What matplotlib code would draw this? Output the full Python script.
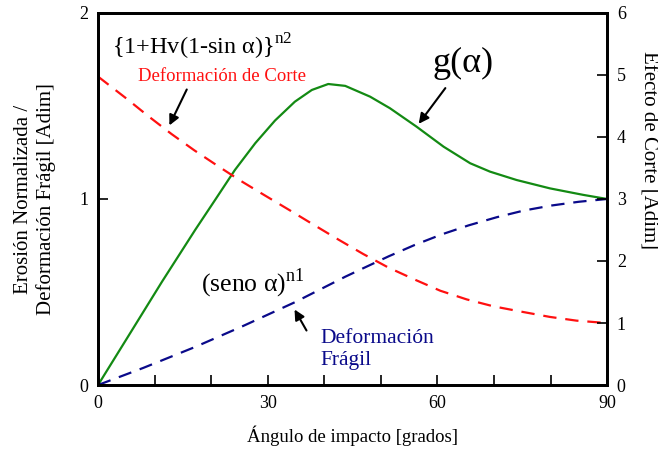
import matplotlib
matplotlib.use('Agg')
from matplotlib import pyplot as plt

plt.rcParams['font.family'] = ['Liberation Serif', 'DejaVu Serif']
plt.rcParams['mathtext.fontset'] = 'custom'
plt.rcParams['mathtext.rm'] = 'Liberation Serif'

# valores (eje izquierdo, 0-2)
ang_g = [0, 5.4, 11.3, 17.2, 20.7, 24.2, 27.8, 31.3, 34.8, 37.8, 40.7, 43.7, 48.1, 51.6,
         56.3, 61.1, 65.8, 69.3, 74.0, 79.9, 85.8, 90]
g_alfa = [0, 0.265, 0.555, 0.835, 0.995, 1.156, 1.30, 1.422, 1.523, 1.586, 1.618, 1.608, 1.55, 1.488,
          1.389, 1.281, 1.192, 1.147, 1.102, 1.057, 1.022, 1.0]

ang_corte = [0, 5.1, 8.9, 13.0, 17.0, 21.1, 25.2, 29.5, 33.8, 38.2, 42.6, 46.9, 51.3, 55.9,
             60.5, 65.2, 69.9, 74.9, 79.9, 84.6, 90]
corte = [1.658, 1.538, 1.445, 1.349, 1.262, 1.179, 1.098, 1.019, 0.941, 0.86, 0.78, 0.704, 0.632, 0.568,
         0.507, 0.46, 0.423, 0.394, 0.366, 0.346, 0.333]

ang_fragil = [0, 8.0, 17.2, 25.7, 34.8, 43.7, 46.9, 51.4, 56.0, 60.8, 65.5, 70.5, 75.3, 80.2, 85.0, 90]
fragil = [0, 0.092, 0.205, 0.318, 0.445, 0.582, 0.628, 0.692, 0.753, 0.81, 0.858, 0.902, 0.938, 0.965,
          0.985, 1.0]

x_ticks = [0, 30, 60, 90]
x_minor = [10, 20, 40, 50, 70, 80]
left_ticks = [0, 1, 2]
right_ticks = [0, 1, 2, 3, 4, 5, 6]

verde = '#138a13'
rojo = '#ff1010'
azul = '#0a0a8a'

fig = plt.figure(figsize=(6.58, 4.51), dpi=100)
ax = fig.add_axes([0.149, 0.1463, 0.7736, 0.825])
ax2 = ax.twinx()

ax.plot(ang_g, g_alfa, color=verde, lw=1.6)
ax.plot(ang_corte, corte, color=rojo, lw=1.6, dashes=[6, 4])
ax.plot(ang_fragil, fragil, color=azul, lw=1.6, dashes=[6, 4])

ax.set_xlim(0, 90)
ax.set_ylim(0, 2)
ax2.set_ylim(0, 6)
ax.set_xticks(x_ticks)
ax.set_xticks(x_minor, minor=True)
ax.set_yticks(left_ticks)
ax2.set_yticks(right_ticks)

for a in (ax, ax2):
    for s in a.spines.values():
        s.set_linewidth(2)
ax.tick_params(axis='x', which='both', direction='in', length=7, width=1.2, labelsize=13, pad=7)
ax.tick_params(axis='y', direction='in', length=7, width=1.2, labelsize=13, pad=7)
ax2.tick_params(axis='y', direction='in', length=7, width=1.2, labelsize=13, pad=7)

ax.set_xlabel('Ángulo de impacto [grados]', fontsize=13.5, labelpad=10)
fig.text(35 / 658, 1 - 199 / 451, 'Erosión Normalizada /\nDeformación Frágil [Adim]',
         rotation=90, ha='center', va='center', fontsize=15, linespacing=1.25)
fig.text(648 / 658, 1 - 150 / 451, 'Efecto de Corte [Adim]',
         rotation=270, ha='center', va='center', fontsize=15)

ax.text(2.5, 1.817, r'{1+Hv(1-sin α)}$^{\mathrm{n2}}$', fontsize=17.5, ha='left', va='center')
ax.text(7.1, 1.661, 'Deformación de Corte', color=rojo, fontsize=13.5, ha='left', va='center')
ax.text(59.1, 1.731, 'g(α)', fontsize=26, ha='left', va='center')
ax.text(18.2, 0.548, r'(seno α)$^{\mathrm{n1}}$', fontsize=18.5, ha='left', va='center')
ax.text(39.3, 0.191, 'Deformación\nFrágil', color=azul, fontsize=15.5, ha='left', va='center',
        linespacing=1.15)

flecha = dict(arrowstyle='-|>', color='k', lw=1.5, mutation_scale=15)
ax.annotate('', xy=(12.4, 1.382), xytext=(15.9, 1.602), arrowprops=flecha)
ax.annotate('', xy=(56.4, 1.392), xytext=(61.7, 1.608), arrowprops=flecha)
ax.annotate('', xy=(34.5, 0.419), xytext=(37.1, 0.28), arrowprops=flecha)

fig.savefig('out.png', dpi=100)
